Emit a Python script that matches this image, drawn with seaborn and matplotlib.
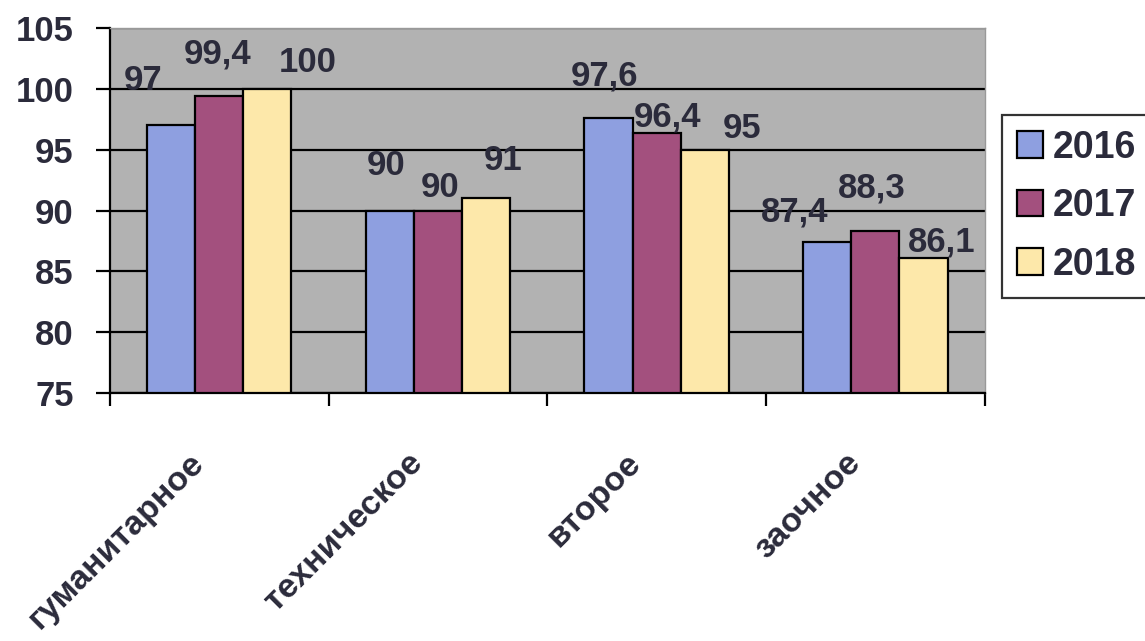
import numpy as np
import pandas as pd
import matplotlib
matplotlib.use("Agg")
import matplotlib.pyplot as plt
import matplotlib.transforms as mtransforms
import seaborn as sns

# data
categories = ["гуманитарное", "техническое", "второе", "заочное"]
years = ["2016", "2017", "2018"]
vals_2016 = [97, 90, 97.6, 87.4]
vals_2017 = [99.4, 90, 96.4, 88.3]
vals_2018 = [100, 91, 95, 86.1]

# manual label nudges (pixels) like in the original, per year / category
label_dx = [[-28, -4, -4, -33], [-2, 2, 11, -4], [40, 17, 37, 18]]
label_dy = [[45, 45, 42, 30], [42, 23, 16, 43], [26, 38, 21, 16]]

colors = ["#8e9fe0", "#a3507e", "#fde8aa"]
text_col = "#2b2b3b"

df = pd.DataFrame({
    "cat": categories * 3,
    "year": [y for y in years for _ in categories],
    "val": vals_2016 + vals_2017 + vals_2018,
})

sns.set_style("white")
plt.rcParams["font.family"] = ["Liberation Sans", "DejaVu Sans"]
plt.rcParams["font.weight"] = "bold"

fig = plt.figure(figsize=(11.45, 6.41), dpi=100)
ax = fig.add_axes([0.096, 0.387, 0.764, 0.569])
ax.set_facecolor("#b2b2b2")

sns.barplot(data=df, x="cat", y="val", hue="year", palette=colors,
            width=0.66, edgecolor="black", linewidth=1.6, ax=ax,
            saturation=1, legend=True)

ax.set_ylim(75, 105)
ax.set_xlim(-0.5, len(categories) - 0.5)
ax.set_yticks(np.arange(75, 106, 5))
ax.yaxis.grid(True, color="black", linewidth=1.6)
ax.set_axisbelow(True)
ax.set_xlabel("")
ax.set_ylabel("")

for s in ["top", "right"]:
    ax.spines[s].set_color("#999999")
    ax.spines[s].set_linewidth(1)
for s in ["left", "bottom"]:
    ax.spines[s].set_color("black")
    ax.spines[s].set_linewidth(1.6)

ax.tick_params(axis="y", length=10, width=1.6, color="black", pad=16,
               labelsize=25, labelcolor=text_col, left=True)
# ticks on category boundaries, labels on centers
ax.set_xticks(np.arange(-0.5, len(categories)), minor=True)
ax.tick_params(axis="x", which="minor", length=9, width=1.6, color="black", bottom=True)
ax.tick_params(axis="x", which="major", length=0, pad=44)
ax.set_xticks(range(len(categories)))
ax.set_xticklabels(categories, rotation=45, ha="right", va="center",
                   rotation_mode="anchor", fontsize=24.5, color=text_col,
                   fontweight="bold")
shift = mtransforms.ScaledTranslation(-20 / 100, -4 / 100, fig.dpi_scale_trans)
for lab in ax.get_xticklabels():
    lab.set_transform(lab.get_transform() + shift)
for lab in ax.get_yticklabels():
    lab.set_fontweight("bold")

# value labels
for i, cont in enumerate(ax.containers):
    for j, bar in enumerate(cont):
        v = bar.get_height()
        txt = f"{v:g}".replace(".", ",")
        ax.annotate(txt, (bar.get_x() + bar.get_width() / 2, v),
                    xytext=(label_dx[i][j], label_dy[i][j]),
                    textcoords="offset pixels", ha="center", va="center",
                    fontsize=25, fontweight="bold", color=text_col,
                    annotation_clip=False)

ax.legend_.remove()
handles = [plt.Rectangle((0, 0), 1, 1, facecolor=c, edgecolor="black", linewidth=1.6)
           for c in colors]
leg = fig.legend(handles, years, loc="upper left", bbox_to_anchor=(0.875, 0.821),
                 frameon=True, fancybox=False, shadow=False, fontsize=27,
                 handlelength=0.7, handleheight=0.7, handletextpad=0.25,
                 labelspacing=0.6, borderpad=0.4, borderaxespad=0)
leg.get_frame().set_edgecolor("black")
leg.get_frame().set_linewidth(1.6)
for t in leg.get_texts():
    t.set_color(text_col)
    t.set_fontweight("bold")

fig.savefig("out.png", dpi=100)
